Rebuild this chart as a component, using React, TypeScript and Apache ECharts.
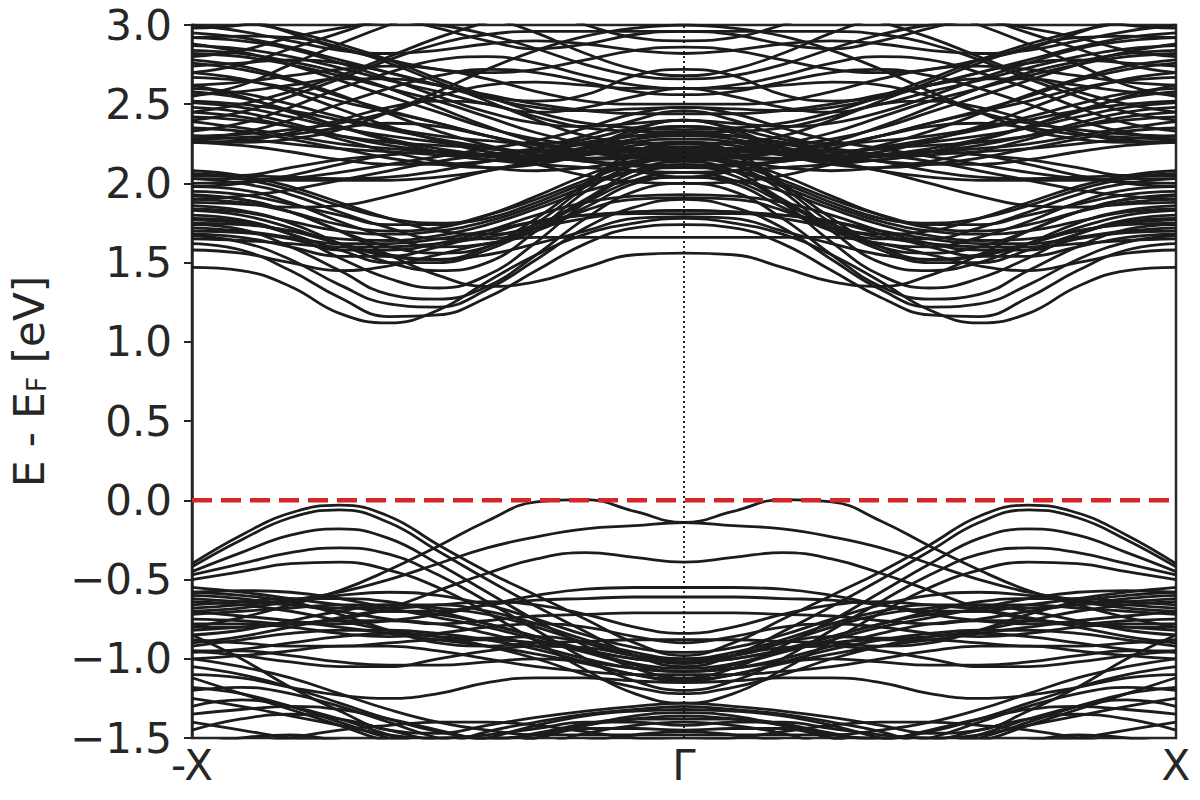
import React, { useEffect, useRef } from "react";
import * as echarts from "echarts";

// k-path positions from -X (−1) to Γ (0); the path Γ → X mirrors it
const K_HALF = [-1.0, -0.9, -0.8, -0.7, -0.6, -0.5, -0.4, -0.3, -0.2, -0.1, 0.0];
const X_TICKS: Record<string, string> = { "-1": "-X", "0": "Γ", "1": "X" };

// Conduction bands, energy (eV) at each K_HALF point
const conductionBands: number[][] = [
  [1.47, 1.45, 1.35, 1.18, 1.12, 1.20, 1.38, 1.55, 1.68, 1.75, 1.78],
  [1.62, 1.58, 1.45, 1.28, 1.16, 1.17, 1.28, 1.45, 1.62, 1.72, 1.74],
  [1.67, 1.63, 1.52, 1.36, 1.24, 1.22, 1.33, 1.52, 1.72, 1.85, 1.90],
  [1.74, 1.71, 1.60, 1.45, 1.30, 1.27, 1.35, 1.55, 1.78, 1.95, 2.00],
  [1.80, 1.77, 1.68, 1.53, 1.40, 1.34, 1.42, 1.63, 1.88, 2.05, 2.11],
  [1.86, 1.83, 1.75, 1.62, 1.50, 1.45, 1.50, 1.70, 1.95, 2.12, 2.19],
  [1.75, 1.74, 1.70, 1.62, 1.55, 1.52, 1.55, 1.62, 1.70, 1.78, 1.79],
  [1.93, 1.90, 1.82, 1.70, 1.60, 1.56, 1.60, 1.75, 1.98, 2.18, 2.25],
  [1.98, 1.96, 1.88, 1.76, 1.66, 1.60, 1.62, 1.70, 1.83, 1.90, 1.91],
  [2.03, 2.00, 1.93, 1.82, 1.72, 1.65, 1.65, 1.72, 1.85, 2.00, 2.04],
  [1.58, 1.56, 1.50, 1.45, 1.48, 1.55, 1.62, 1.66, 1.66, 1.66, 1.66],
  [1.70, 1.69, 1.65, 1.58, 1.58, 1.62, 1.70, 1.80, 1.88, 1.92, 1.93],
  [1.92, 1.90, 1.82, 1.70, 1.55, 1.42, 1.35, 1.38, 1.47, 1.55, 1.56],
  [1.78, 1.76, 1.68, 1.58, 1.50, 1.50, 1.58, 1.72, 1.88, 2.02, 2.07],
  [1.83, 1.80, 1.72, 1.62, 1.54, 1.52, 1.60, 1.78, 2.00, 2.20, 2.26],
  [2.08, 2.05, 1.98, 1.88, 1.78, 1.70, 1.68, 1.74, 1.90, 2.08, 2.14],
  [1.65, 1.64, 1.62, 1.60, 1.60, 1.62, 1.66, 1.72, 1.78, 1.82, 1.83],
  [1.72, 1.70, 1.66, 1.62, 1.62, 1.65, 1.70, 1.76, 1.80, 1.82, 1.83],
  [1.77, 1.75, 1.70, 1.65, 1.64, 1.67, 1.74, 1.84, 1.95, 2.02, 2.04],
  [1.84, 1.82, 1.76, 1.70, 1.68, 1.70, 1.76, 1.86, 1.98, 2.08, 2.12],
  [1.90, 1.88, 1.82, 1.74, 1.70, 1.72, 1.80, 1.92, 2.05, 2.14, 2.16],
  [1.68, 1.66, 1.60, 1.54, 1.54, 1.60, 1.68, 1.76, 1.80, 1.81, 1.81],
  [1.95, 1.93, 1.87, 1.80, 1.74, 1.74, 1.80, 1.90, 2.02, 2.12, 2.16],
  [2.06, 2.03, 1.96, 1.86, 1.78, 1.75, 1.78, 1.88, 2.00, 2.08, 2.10],
  [2.05, 2.05, 2.10, 2.15, 2.18, 2.20, 2.18, 2.15, 2.15, 2.16, 2.17],
  [2.30, 2.28, 2.25, 2.22, 2.20, 2.18, 2.15, 2.12, 2.10, 2.08, 2.07],
  [2.39, 2.35, 2.30, 2.25, 2.22, 2.20, 2.18, 2.20, 2.25, 2.30, 2.32],
  [2.42, 2.40, 2.36, 2.30, 2.26, 2.24, 2.22, 2.18, 2.14, 2.12, 2.11],
  [2.51, 2.48, 2.42, 2.35, 2.30, 2.26, 2.22, 2.20, 2.22, 2.28, 2.30],
  [2.60, 2.57, 2.50, 2.42, 2.35, 2.30, 2.27, 2.25, 2.30, 2.40, 2.46],
  [2.67, 2.65, 2.60, 2.52, 2.45, 2.38, 2.30, 2.22, 2.15, 2.08, 2.04],
  [2.76, 2.72, 2.65, 2.55, 2.46, 2.38, 2.30, 2.25, 2.28, 2.35, 2.40],
  [2.82, 2.80, 2.75, 2.68, 2.60, 2.52, 2.42, 2.32, 2.25, 2.20, 2.19],
  [2.87, 2.85, 2.80, 2.73, 2.65, 2.58, 2.50, 2.45, 2.48, 2.55, 2.60],
  [2.95, 2.92, 2.86, 2.78, 2.70, 2.62, 2.55, 2.52, 2.56, 2.68, 2.72],
  [2.26, 2.27, 2.32, 2.40, 2.48, 2.52, 2.50, 2.42, 2.35, 2.33, 2.32],
  [2.55, 2.62, 2.75, 2.88, 3.00, 3.10, 3.15, 3.10, 3.00, 2.92, 2.90],
  [3.10, 3.05, 2.95, 2.85, 2.78, 2.72, 2.70, 2.72, 2.78, 2.84, 2.86],
  [2.98, 3.00, 3.05, 3.10, 3.05, 2.98, 2.90, 2.85, 2.88, 2.94, 2.96],
  [2.62, 2.55, 2.45, 2.36, 2.28, 2.22, 2.18, 2.16, 2.20, 2.28, 2.32],
  [2.28, 2.29, 2.31, 2.35, 2.38, 2.36, 2.30, 2.24, 2.20, 2.18, 2.18],
  [2.33, 2.38, 2.48, 2.60, 2.70, 2.78, 2.80, 2.76, 2.68, 2.62, 2.60],
  [2.27, 2.26, 2.28, 2.34, 2.45, 2.58, 2.72, 2.84, 2.93, 2.98, 3.00],
  [2.45, 2.50, 2.58, 2.68, 2.80, 2.92, 3.02, 3.10, 3.10, 3.05, 3.02],
  [2.70, 2.75, 2.85, 2.95, 3.05, 3.10, 3.05, 2.95, 2.82, 2.72, 2.68],
  [2.88, 2.83, 2.75, 2.65, 2.55, 2.45, 2.35, 2.28, 2.24, 2.22, 2.22],
  [2.92, 2.90, 2.85, 2.76, 2.66, 2.55, 2.45, 2.38, 2.36, 2.38, 2.40],
  [2.06, 2.05, 2.04, 2.03, 2.04, 2.08, 2.14, 2.18, 2.20, 2.22, 2.23],
  [1.98, 2.00, 2.05, 2.12, 2.18, 2.20, 2.18, 2.12, 2.05, 2.01, 2.00],
  [2.45, 2.42, 2.36, 2.28, 2.20, 2.14, 2.10, 2.08, 2.10, 2.14, 2.15],
  [2.35, 2.33, 2.28, 2.22, 2.16, 2.12, 2.10, 2.12, 2.18, 2.26, 2.28],
  [2.58, 2.54, 2.46, 2.36, 2.27, 2.20, 2.15, 2.14, 2.18, 2.24, 2.26],
  [2.70, 2.66, 2.58, 2.47, 2.36, 2.27, 2.20, 2.17, 2.20, 2.32, 2.36],
  [1.90, 1.92, 1.96, 2.02, 2.08, 2.14, 2.18, 2.22, 2.26, 2.30, 2.31],
  [2.00, 2.01, 2.03, 2.07, 2.12, 2.17, 2.22, 2.27, 2.35, 2.44, 2.48],
  [2.03, 2.03, 2.02, 2.02, 2.02, 2.04, 2.08, 2.14, 2.22, 2.32, 2.36],
  [1.88, 1.87, 1.85, 1.86, 1.92, 2.00, 2.08, 2.14, 2.18, 2.20, 2.20],
  [2.48, 2.45, 2.38, 2.30, 2.24, 2.20, 2.17, 2.16, 2.16, 2.17, 2.17],
  [2.26, 2.24, 2.20, 2.15, 2.12, 2.12, 2.14, 2.17, 2.20, 2.21, 2.21],
  [2.52, 2.50, 2.46, 2.40, 2.34, 2.28, 2.23, 2.20, 2.23, 2.34, 2.40],
  [2.78, 2.74, 2.66, 2.56, 2.44, 2.33, 2.24, 2.18, 2.14, 2.11, 2.10],
  [2.84, 2.82, 2.77, 2.70, 2.60, 2.48, 2.36, 2.26, 2.20, 2.16, 2.15],
  [2.92, 2.93, 2.92, 2.86, 2.76, 2.64, 2.52, 2.40, 2.30, 2.26, 2.25],
  [3.05, 3.02, 2.96, 2.88, 2.78, 2.66, 2.55, 2.45, 2.38, 2.35, 2.34],
  [2.62, 2.64, 2.68, 2.72, 2.74, 2.72, 2.66, 2.58, 2.52, 2.50, 2.50],
  [2.74, 2.76, 2.78, 2.76, 2.70, 2.62, 2.54, 2.48, 2.46, 2.47, 2.48],
  [3.00, 2.96, 2.90, 2.84, 2.82, 2.84, 2.88, 2.90, 2.88, 2.84, 2.82],
  [2.56, 2.58, 2.62, 2.66, 2.66, 2.62, 2.56, 2.50, 2.46, 2.44, 2.44],
  [2.80, 2.84, 2.92, 2.98, 3.02, 3.00, 2.94, 2.85, 2.75, 2.68, 2.66],
  [2.40, 2.45, 2.55, 2.66, 2.78, 2.88, 2.94, 2.96, 2.96, 2.96, 2.96],
  [2.28, 2.32, 2.40, 2.50, 2.60, 2.68, 2.72, 2.70, 2.64, 2.58, 2.56],
  [2.30, 2.31, 2.34, 2.38, 2.45, 2.55, 2.62, 2.64, 2.62, 2.60, 2.60],
];

// Valence bands, energy (eV) at each K_HALF point
const valenceBands: number[][] = [
  [-0.80, -0.74, -0.66, -0.57, -0.44, -0.29, -0.13, -0.01, 0.005, -0.07, -0.14],
  [-0.40, -0.22, -0.08, -0.03, -0.10, -0.28, -0.45, -0.60, -0.75, -0.90, -0.98],
  [-0.42, -0.25, -0.11, -0.06, -0.14, -0.32, -0.50, -0.67, -0.83, -0.98, -1.05],
  [-0.45, -0.33, -0.22, -0.18, -0.24, -0.40, -0.58, -0.76, -0.92, -1.06, -1.12],
  [-0.47, -0.40, -0.33, -0.30, -0.34, -0.47, -0.64, -0.82, -1.00, -1.14, -1.20],
  [-0.50, -0.45, -0.40, -0.39, -0.44, -0.55, -0.71, -0.89, -1.07, -1.22, -1.28],
  [-0.80, -0.80, -0.78, -0.75, -0.68, -0.57, -0.46, -0.37, -0.33, -0.36, -0.39],
  [-0.68, -0.66, -0.63, -0.58, -0.50, -0.40, -0.30, -0.23, -0.18, -0.16, -0.14],
  [-0.75, -0.76, -0.78, -0.78, -0.76, -0.72, -0.66, -0.60, -0.56, -0.55, -0.55],
  [-0.55, -0.58, -0.62, -0.66, -0.70, -0.70, -0.66, -0.63, -0.62, -0.61, -0.61],
  [-0.62, -0.64, -0.66, -0.70, -0.75, -0.78, -0.76, -0.73, -0.72, -0.71, -0.71],
  [-0.58, -0.60, -0.64, -0.72, -0.82, -0.90, -0.92, -0.90, -0.89, -0.88, -0.88],
  [-0.70, -0.68, -0.64, -0.60, -0.58, -0.60, -0.66, -0.75, -0.85, -0.93, -0.96],
  [-0.72, -0.70, -0.68, -0.66, -0.66, -0.68, -0.72, -0.80, -0.90, -0.98, -1.00],
  [-0.85, -0.82, -0.76, -0.70, -0.66, -0.66, -0.70, -0.78, -0.88, -0.96, -1.00],
  [-0.78, -0.78, -0.80, -0.84, -0.86, -0.84, -0.80, -0.78, -0.80, -0.86, -0.90],
  [-0.90, -0.86, -0.80, -0.74, -0.70, -0.72, -0.78, -0.86, -0.95, -1.03, -1.06],
  [-0.64, -0.66, -0.70, -0.76, -0.82, -0.86, -0.87, -0.86, -0.90, -0.98, -1.03],
  [-0.88, -0.90, -0.92, -0.92, -0.90, -0.88, -0.88, -0.90, -0.95, -1.00, -1.02],
  [-1.10, -1.12, -1.18, -1.23, -1.25, -1.22, -1.15, -1.12, -1.12, -1.14, -1.15],
  [-0.95, -0.98, -1.02, -1.05, -1.05, -1.00, -0.95, -0.92, -0.93, -0.98, -1.02],
  [-1.00, -0.98, -0.95, -0.92, -0.92, -0.95, -1.00, -1.05, -1.08, -1.10, -1.10],
  [-0.85, -1.00, -1.18, -1.33, -1.45, -1.47, -1.42, -1.37, -1.33, -1.30, -1.28],
  [-1.12, -1.22, -1.32, -1.42, -1.52, -1.55, -1.50, -1.42, -1.36, -1.33, -1.32],
  [-1.20, -1.18, -1.22, -1.30, -1.40, -1.50, -1.55, -1.50, -1.42, -1.38, -1.36],
  [-1.30, -1.26, -1.30, -1.38, -1.48, -1.56, -1.60, -1.55, -1.47, -1.42, -1.40],
  [-1.45, -1.38, -1.35, -1.38, -1.45, -1.52, -1.55, -1.50, -1.44, -1.44, -1.45],
  [-1.40, -1.45, -1.50, -1.52, -1.52, -1.53, -1.52, -1.47, -1.41, -1.38, -1.38],
  [-1.55, -1.50, -1.48, -1.52, -1.58, -1.55, -1.46, -1.40, -1.35, -1.32, -1.30],
  [-1.00, -1.05, -1.12, -1.22, -1.32, -1.40, -1.45, -1.48, -1.48, -1.48, -1.48],
  [-0.95, -0.95, -0.98, -1.02, -1.04, -1.04, -1.02, -1.00, -1.02, -1.06, -1.08],
  [-1.05, -1.10, -1.18, -1.28, -1.38, -1.46, -1.50, -1.48, -1.42, -1.36, -1.34],
  [-1.60, -1.55, -1.50, -1.45, -1.42, -1.40, -1.40, -1.42, -1.46, -1.50, -1.52],
  [-0.60, -0.62, -0.66, -0.68, -0.68, -0.66, -0.64, -0.66, -0.72, -0.80, -0.84],
  [-0.66, -0.64, -0.62, -0.62, -0.64, -0.70, -0.78, -0.86, -0.94, -1.00, -1.02],
  [-0.82, -0.80, -0.78, -0.76, -0.76, -0.78, -0.84, -0.92, -1.00, -1.06, -1.08],
  [-0.58, -0.57, -0.58, -0.62, -0.68, -0.74, -0.80, -0.88, -0.96, -1.04, -1.08],
  [-0.92, -0.88, -0.84, -0.82, -0.82, -0.84, -0.88, -0.94, -1.02, -1.10, -1.14],
  [-0.70, -0.73, -0.76, -0.80, -0.84, -0.88, -0.92, -0.97, -1.03, -1.10, -1.13],
  [-0.96, -0.94, -0.90, -0.86, -0.84, -0.86, -0.92, -1.00, -1.10, -1.18, -1.22],
  [-1.18, -1.22, -1.30, -1.40, -1.50, -1.56, -1.58, -1.56, -1.52, -1.48, -1.46],
  [-1.25, -1.30, -1.36, -1.42, -1.48, -1.50, -1.48, -1.44, -1.40, -1.40, -1.42],
  [-1.35, -1.32, -1.30, -1.32, -1.38, -1.45, -1.52, -1.56, -1.58, -1.58, -1.58],
];

const FERMI = 0;
const Y_MIN = -1.5;
const Y_MAX = 3.0;

const FONT = "DejaVu Sans";
const TEXT = "#262626";
const BAND = "#1c1c1c";

function fullPath(half: number[]): number[][] {
  const pts: number[][] = K_HALF.map((k, i) => [k, half[i]]);
  for (let i = K_HALF.length - 2; i >= 0; i--) pts.push([-K_HALF[i], half[i]]);
  return pts;
}

export default function App() {
  const ref = useRef<HTMLDivElement>(null);
  useEffect(() => {
    document.body.style.margin = "0";
    const chart = echarts.init(ref.current!, undefined, { renderer: "svg" });
    const bands = [...conductionBands, ...valenceBands];
    const series: any[] = bands.map((b) => ({
      type: "line",
      data: fullPath(b),
      smooth: 0.45,
      showSymbol: false,
      silent: true,
      clip: true,
      lineStyle: { color: BAND, width: 2.8 },
      z: 2,
    }));
    series.push({
      type: "line",
      data: [[0, Y_MIN], [0, Y_MAX]],
      showSymbol: false,
      silent: true,
      lineStyle: { color: "#111", width: 1.8, type: [2, 3] },
      z: 3,
    });
    series.push({
      type: "line",
      data: [[-1, FERMI], [1, FERMI]],
      showSymbol: false,
      silent: true,
      lineStyle: { color: "#d62728", width: 4.5, type: [20, 9] },
      z: 4,
    });
    chart.setOption({
      animation: false,
      backgroundColor: "#ffffff",
      grid: {
        left: 190,
        right: 24,
        top: 25,
        bottom: 62,
        show: true,
        borderColor: TEXT,
        borderWidth: 2.5,
        backgroundColor: "transparent",
      },
      xAxis: {
        type: "value",
        min: -1,
        max: 1,
        interval: 1,
        axisLine: { show: false, onZero: false },
        axisTick: { show: false },
        splitLine: { show: false },
        axisLabel: {
          fontFamily: FONT,
          fontSize: 42,
          color: TEXT,
          margin: 6,
          formatter: (v: number) => X_TICKS[String(v)] ?? "",
        },
      },
      yAxis: {
        type: "value",
        min: Y_MIN,
        max: Y_MAX,
        interval: 0.5,
        axisLine: { show: true, onZero: false, lineStyle: { color: TEXT, width: 2.5 } },
        axisTick: { show: true, inside: false, length: 8, lineStyle: { color: TEXT, width: 2 } },
        splitLine: { show: false },
        axisLabel: {
          fontFamily: FONT,
          fontSize: 42,
          color: TEXT,
          margin: 20,
          formatter: (v: number) => (v < 0 ? "\u2212" : "") + Math.abs(v).toFixed(1),
        },
        name: "{a|E - E}{b|F}{a| [eV]}",
        nameLocation: "middle",
        nameRotate: 90,
        nameGap: 142,
        nameTextStyle: {
          color: TEXT,
          rich: {
            a: { fontFamily: FONT, fontSize: 42, color: TEXT },
            b: { fontFamily: FONT, fontSize: 27, color: TEXT, verticalAlign: "bottom", padding: [14, 0, 0, 0] },
          },
        },
      },
      series,
    });
    return () => chart.dispose();
  }, []);
  return <div ref={ref} style={{ width: 1200, height: 800 }} />;
}
